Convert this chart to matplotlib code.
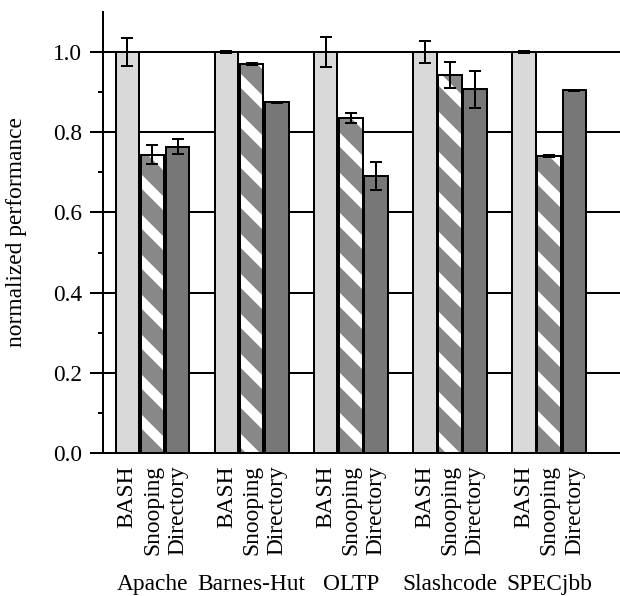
import matplotlib.pyplot as plt
import numpy as np

plt.rcParams['font.family'] = 'Liberation Serif'
plt.rcParams['hatch.linewidth'] = 6

benchmarks = ['Apache', 'Barnes-Hut', 'OLTP', 'Slashcode', 'SPECjbb']
protocols = ['BASH', 'Snooping', 'Directory']

bash = [1.0, 1.0, 1.0, 1.0, 1.0]
bash_err = [0.035, 0.003, 0.037, 0.027, 0.003]
snooping = [0.744, 0.970, 0.835, 0.942, 0.740]
snooping_err = [0.024, 0.003, 0.012, 0.032, 0.002]
directory = [0.764, 0.874, 0.691, 0.907, 0.904]
directory_err = [0.018, 0.002, 0.035, 0.046, 0.002]

yticks = [0.0, 0.2, 0.4, 0.6, 0.8, 1.0]
yminor = [0.1, 0.3, 0.5, 0.7, 0.9]

DPI = 120
fig = plt.figure(figsize=(620 / DPI, 596 / DPI), dpi=DPI)
ax = fig.add_axes([0.1669, 0.2394, 0.834, 0.741])

x = np.arange(len(benchmarks))
step = 0.254
width = 0.237
lw = 1.2
err_kw = dict(fmt='none', ecolor='black', elinewidth=lw, capsize=3.6, capthick=lw, zorder=4)

ax.bar(x - step, bash, width, color='#d9d9d9', edgecolor='black', linewidth=lw, zorder=2)
# snooping: gray with white diagonal stripes, black outline drawn on top
ax.bar(x, snooping, width, color='#888888', edgecolor='white', hatch='\\', linewidth=0, zorder=2)
ax.bar(x, snooping, width, fill=False, edgecolor='black', linewidth=lw, zorder=3)
ax.bar(x + step, directory, width, color='#777777', edgecolor='black', linewidth=lw, zorder=2)

ax.errorbar(x - step, bash, yerr=bash_err, **err_kw)
ax.errorbar(x, snooping, yerr=snooping_err, **err_kw)
ax.errorbar(x + step, directory, yerr=directory_err, **err_kw)

ax.set_xlim(-0.494, 4.72)
ax.set_ylim(0, 1.1)

ax.set_yticks(yticks, ['%.1f' % v for v in yticks], fontsize=14)
ax.set_yticks(yminor, minor=True)
ax.tick_params(axis='y', which='major', length=7.8, width=lw, pad=4.8)
ax.tick_params(axis='y', which='minor', length=3, width=lw)
ax.yaxis.grid(True, which='major', color='black', linewidth=lw, zorder=0)
ax.set_axisbelow(True)

pos = np.concatenate([[i - step, i, i + step] for i in x])
ax.set_xticks(pos, protocols * len(benchmarks), rotation=90, fontsize=14)
ax.tick_params(axis='x', length=0, pad=7.2)

for i, name in enumerate(benchmarks):
    ax.text(i, -0.31, name, transform=ax.get_xaxis_transform(),
            ha='center', va='baseline', fontsize=14)

ax.set_ylabel('normalized performance', fontsize=14, labelpad=16)

ax.spines['top'].set_visible(False)
ax.spines['right'].set_visible(False)
ax.spines['left'].set_linewidth(lw)
ax.spines['bottom'].set_linewidth(lw)

fig.savefig('out.png', dpi=DPI)
